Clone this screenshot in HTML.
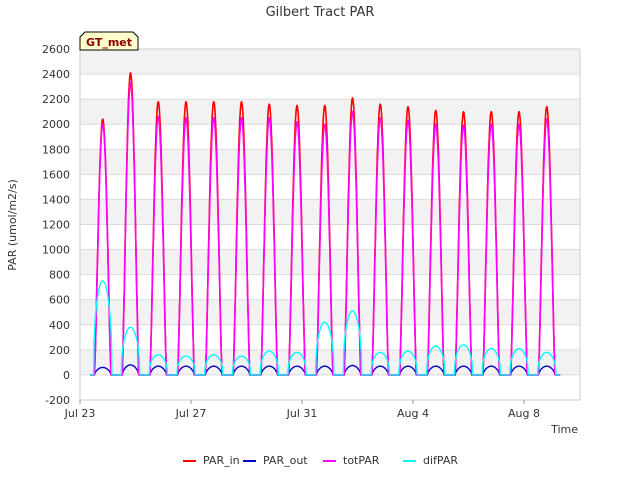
<!DOCTYPE html>
<html><head><meta charset="utf-8"><style>
body{margin:0;background:#fff;font-family:"Liberation Sans","DejaVu Sans",sans-serif}
</style></head><body>
<svg id="c" width="640" height="480" viewBox="0 0 640 480" xmlns="http://www.w3.org/2000/svg" font-family="DejaVu Sans, Liberation Sans, sans-serif">
<rect width="640" height="480" fill="#fff"/>
<text x="320" y="16" text-anchor="middle" font-size="13" fill="#333">Gilbert Tract PAR</text>
<g id="grid"></g>
<g id="series"></g>
<g id="axes"></g>
<text x="16" y="225" transform="rotate(-90 16 225)" text-anchor="middle" font-size="11" fill="#333">PAR (umol/m2/s)</text>
<text x="578" y="433" text-anchor="end" font-size="11" fill="#333">Time</text>
<g>
<path d="M80,50 L80,37 L85,32 L133,32 L138,37 L138,50 Z" fill="#ffffcc" stroke="#000" stroke-width="1"/>
<text x="109" y="46" text-anchor="middle" font-size="11" font-weight="bold" fill="#8b0000">GT_met</text>
</g>
<g id="legend"></g>
</svg>
<script>
const categories=["Jul 23","Jul 24","Jul 25","Jul 26","Jul 27","Jul 28","Jul 29","Jul 30","Jul 31","Aug 1","Aug 2","Aug 3","Aug 4","Aug 5","Aug 6","Aug 7","Aug 8"];
const parInPeaks=[2040,2410,2180,2180,2180,2180,2160,2150,2150,2210,2160,2140,2110,2100,2100,2100,2140];
const totParPeaks=[2000,2330,2060,2050,2050,2050,2050,2020,2000,2100,2050,2030,2000,1990,2000,2000,2040];
const difParPeaks=[750,380,160,150,160,150,190,180,420,510,180,190,230,240,210,210,180];
const parOutPeaks=[60,80,70,70,70,70,70,70,70,75,70,70,70,70,70,70,70];
const yTicks=[-200,0,200,400,600,800,1000,1200,1400,1600,1800,2000,2200,2400,2600];
const xTickDays=[0,4,8,12,16];
const xTickLabels=["Jul 23","Jul 27","Jul 31","Aug 4","Aug 8"];
const NS="http://www.w3.org/2000/svg";
const X0=80,X1=580,Y0=49,Y1=400;
const xs=d=>X0+d*27.75;
const ys=v=>Y1-(v+200)/2800*(Y1-Y0);
function el(t,a,p){const e=document.createElementNS(NS,t);for(const k in a)e.setAttribute(k,a[k]);p.appendChild(e);return e;}
const grid=document.getElementById('grid'),axes=document.getElementById('axes'),ser=document.getElementById('series'),leg=document.getElementById('legend');
for(let i=0;i<yTicks.length-1;i++){
  const v=yTicks[i];
  if(v>=0&&((v/200)%2===0)){
    const r=el('rect',{x:X0,y:ys(v+200),width:X1-X0,height:ys(v)-ys(v+200),fill:'#f2f2f2'},grid);
    
    
  }
}
yTicks.forEach(v=>{
  const l=el('line',{x1:X0,x2:X1,y1:ys(v),y2:ys(v),stroke:'#dcdcdc','stroke-width':1},grid);
  
  
  const t=el('text',{x:X0-10,y:ys(v)+4,'text-anchor':'end','font-size':11,fill:'#333'},axes);
  t.textContent=v;
  
  
});
el('rect',{x:X0,y:Y0,width:X1-X0,height:Y1-Y0,fill:'none',stroke:'#ccc'},axes);
xTickDays.forEach((d,i)=>{
  el('line',{x1:xs(d),x2:xs(d),y1:Y1,y2:Y1+4,stroke:'#999'},axes);
  const t=el('text',{x:xs(d),y:Y1+17,'text-anchor':'middle','font-size':11,fill:'#333'},axes);
  t.textContent=xTickLabels[i];
  
  
});
function path(peaks,color,hw,pw,name,w){
  const N=40;
  let d='M'+xs(0.36).toFixed(1)+','+ys(0).toFixed(1);
  for(let i=0;i<peaks.length;i++){
    const c=i+0.82;
    d+='L'+xs(c-hw).toFixed(1)+','+ys(0).toFixed(1);
    for(let k=1;k<N;k++){
      const f=-hw+2*hw*k/N;
      const v=peaks[i]*Math.pow(Math.cos(f/hw*Math.PI/2),pw);
      d+='L'+xs(c+f).toFixed(1)+','+ys(v).toFixed(1);
    }
    d+='L'+xs(c+hw).toFixed(1)+','+ys(0).toFixed(1);
  }
  d+='L'+xs(17.3).toFixed(1)+','+ys(0).toFixed(1);
  const p=el('path',{d:d,fill:'none',stroke:color,'stroke-width':w,'stroke-linejoin':'round'},ser);
  
  
}
path(parInPeaks,'#ff0000',0.3,1.3,'par-in-line',1.6);
path(parOutPeaks,'#0000cc',0.3,0.6,'par-out-line',1.4);
path(totParPeaks,'#ff00ff',0.3,1.3,'totpar-line',1.6);
path(difParPeaks,'#00ffff',0.33,0.4,'difpar-line',1.4);
const names=["PAR_in","PAR_out","totPAR","difPAR"],cols=["#ff0000","#0000cc","#ff00ff","#00ffff"],lx=[183,243,323,403];
names.forEach((n,i)=>{
  const g=el('g',{},leg);
  
  
  el('line',{x1:lx[i],x2:lx[i]+13,y1:461,y2:461,stroke:cols[i],'stroke-width':2},g);
  const t=el('text',{x:lx[i]+20,y:464,'font-size':11,fill:'#333'},g);t.textContent=n;
});
</script>
</body></html>
